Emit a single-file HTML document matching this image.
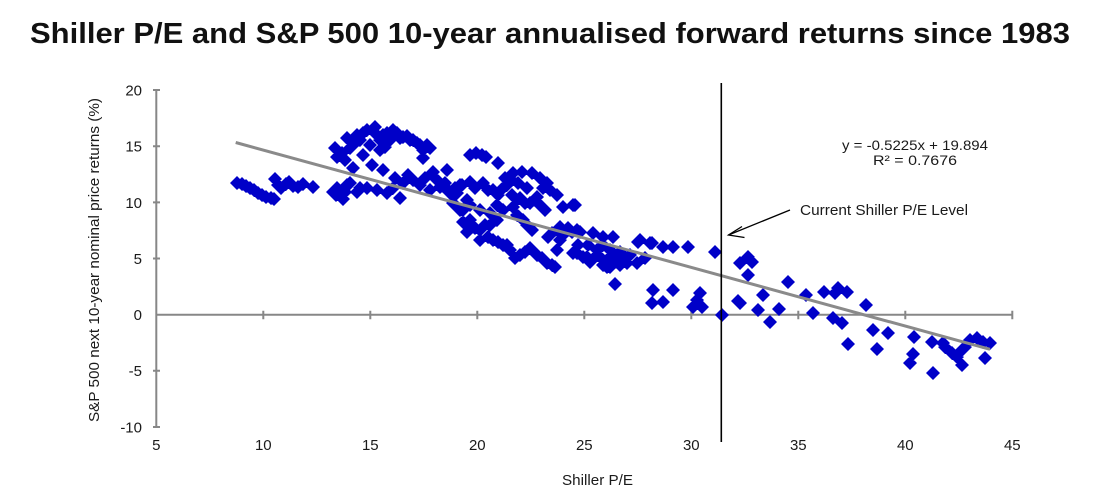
<!DOCTYPE html>
<html>
<head>
<meta charset="utf-8">
<style>
html,body{margin:0;padding:0;background:#fff;}
svg{display:block;}
</style>
</head>
<body>
<svg width="1107" height="497" viewBox="0 0 1107 497" xmlns="http://www.w3.org/2000/svg">
<rect width="1107" height="497" fill="#fff"/>
<text x="30" y="43" font-family="Liberation Sans, sans-serif" font-weight="bold" font-size="29" fill="#111" textLength="1040" lengthAdjust="spacingAndGlyphs">Shiller P/E and S&amp;P 500 10-year annualised forward returns since 1983</text>

<!-- axes -->
<g stroke="#878787" stroke-width="2" fill="none">
<line x1="156.3" y1="90" x2="156.3" y2="427"/>
<line x1="156.3" y1="314.7" x2="1013" y2="314.7"/>
<path d="M153 90H160M153 146.2H160M153 202.4H160M153 258.5H160M153 370.8H160M153 427H160"/>
<path d="M263.3 310.7V319.3M370.3 310.7V319.3M477.3 310.7V319.3M584.3 310.7V319.3M691.3 310.7V319.3M798.3 310.7V319.3M905.3 310.7V319.3M1012.3 310.7V319.3"/>
</g>

<g font-family="Liberation Sans, sans-serif" font-size="15" fill="#1a1a1a" text-anchor="end">
<text x="142" y="95.4">20</text>
<text x="142" y="151.6">15</text>
<text x="142" y="207.8">10</text>
<text x="142" y="263.9">5</text>
<text x="142" y="320.1">0</text>
<text x="142" y="376.2">-5</text>
<text x="142" y="432.4">-10</text>
</g>
<g font-family="Liberation Sans, sans-serif" font-size="15" fill="#1a1a1a" text-anchor="middle">
<text x="156.3" y="450">5</text>
<text x="263.3" y="450">10</text>
<text x="370.3" y="450">15</text>
<text x="477.3" y="450">20</text>
<text x="584.3" y="450">25</text>
<text x="691.3" y="450">30</text>
<text x="798.3" y="450">35</text>
<text x="905.3" y="450">40</text>
<text x="1012.3" y="450">45</text>
</g>
<text x="562" y="485" font-family="Liberation Sans, sans-serif" font-size="15" fill="#1a1a1a" textLength="71" lengthAdjust="spacingAndGlyphs">Shiller P/E</text>
<text transform="translate(99,260) rotate(-90)" x="0" y="0" text-anchor="middle" font-family="Liberation Sans, sans-serif" font-size="15" fill="#1a1a1a" textLength="324" lengthAdjust="spacingAndGlyphs">S&amp;P 500 next 10-year nominal price returns (%)</text>

<!-- data points -->
<path fill="#0000c8" d="
M237 183m0-7l7 7-7 7-7-7zM242 184m0-7l7 7-7 7-7-7zM246 186m0-7l7 7-7 7-7-7zM250 188m0-7l7 7-7 7-7-7zM254 190m0-7l7 7-7 7-7-7zM258 193m0-7l7 7-7 7-7-7zM262 195m0-7l7 7-7 7-7-7zM266 197m0-7l7 7-7 7-7-7zM271 198m0-7l7 7-7 7-7-7zM274 199m0-7l7 7-7 7-7-7zM275 179m0-7l7 7-7 7-7-7zM278 185m0-7l7 7-7 7-7-7zM281 188m0-7l7 7-7 7-7-7zM286 184m0-7l7 7-7 7-7-7zM289 182m0-7l7 7-7 7-7-7zM293 186m0-7l7 7-7 7-7-7zM298 187m0-7l7 7-7 7-7-7zM313 187m0-7l7 7-7 7-7-7zM303 184m0-7l7 7-7 7-7-7z
M333 192m0-7l7 7-7 7-7-7zM337 188m0-7l7 7-7 7-7-7zM340 196m0-7l7 7-7 7-7-7zM343 199m0-7l7 7-7 7-7-7zM347 185m0-7l7 7-7 7-7-7zM350 183m0-7l7 7-7 7-7-7zM336 195m0-7l7 7-7 7-7-7zM345 192m0-7l7 7-7 7-7-7z
M335 148m0-7l7 7-7 7-7-7zM337 157m0-7l7 7-7 7-7-7zM342 153m0-7l7 7-7 7-7-7zM347 138m0-7l7 7-7 7-7-7zM350 148m0-7l7 7-7 7-7-7zM353 145m0-7l7 7-7 7-7-7zM357 135m0-7l7 7-7 7-7-7zM360 140m0-7l7 7-7 7-7-7zM363 133m0-7l7 7-7 7-7-7zM367 130m0-7l7 7-7 7-7-7zM372 130m0-7l7 7-7 7-7-7zM375 127m0-7l7 7-7 7-7-7zM377 135m0-7l7 7-7 7-7-7zM380 140m0-7l7 7-7 7-7-7zM383 135m0-7l7 7-7 7-7-7zM387 133m0-7l7 7-7 7-7-7zM390 140m0-7l7 7-7 7-7-7zM393 130m0-7l7 7-7 7-7-7zM397 133m0-7l7 7-7 7-7-7zM400 138m0-7l7 7-7 7-7-7zM403 137m0-7l7 7-7 7-7-7zM407 136m0-7l7 7-7 7-7-7zM410 140m0-7l7 7-7 7-7-7zM413 140m0-7l7 7-7 7-7-7zM417 143m0-7l7 7-7 7-7-7zM420 145m0-7l7 7-7 7-7-7zM423 150m0-7l7 7-7 7-7-7zM427 145m0-7l7 7-7 7-7-7zM430 148m0-7l7 7-7 7-7-7zM423 158m0-7l7 7-7 7-7-7zM363 155m0-7l7 7-7 7-7-7zM380 150m0-7l7 7-7 7-7-7zM385 147m0-7l7 7-7 7-7-7zM345 160m0-7l7 7-7 7-7-7zM370 145m0-7l7 7-7 7-7-7z
M353 168m0-7l7 7-7 7-7-7zM372 165m0-7l7 7-7 7-7-7zM383 170m0-7l7 7-7 7-7-7zM367 188m0-7l7 7-7 7-7-7zM377 190m0-7l7 7-7 7-7-7zM387 193m0-7l7 7-7 7-7-7zM395 178m0-7l7 7-7 7-7-7zM400 198m0-7l7 7-7 7-7-7zM403 183m0-7l7 7-7 7-7-7zM408 175m0-7l7 7-7 7-7-7zM413 180m0-7l7 7-7 7-7-7zM420 185m0-7l7 7-7 7-7-7zM425 178m0-7l7 7-7 7-7-7zM433 172m0-7l7 7-7 7-7-7zM437 180m0-7l7 7-7 7-7-7zM440 187m0-7l7 7-7 7-7-7zM445 183m0-7l7 7-7 7-7-7zM450 192m0-7l7 7-7 7-7-7zM455 188m0-7l7 7-7 7-7-7zM360 188m0-7l7 7-7 7-7-7zM357 192m0-7l7 7-7 7-7-7zM393 188m0-7l7 7-7 7-7-7zM430 190m0-7l7 7-7 7-7-7zM447 170m0-7l7 7-7 7-7-7zM460 185m0-7l7 7-7 7-7-7z
M470 155m0-7l7 7-7 7-7-7zM476 153m0-7l7 7-7 7-7-7zM482 155m0-7l7 7-7 7-7-7zM486 157m0-7l7 7-7 7-7-7zM498 163m0-7l7 7-7 7-7-7zM513 173m0-7l7 7-7 7-7-7zM522 172m0-7l7 7-7 7-7-7zM532 173m0-7l7 7-7 7-7-7zM540 178m0-7l7 7-7 7-7-7zM547 183m0-7l7 7-7 7-7-7zM543 188m0-7l7 7-7 7-7-7zM550 190m0-7l7 7-7 7-7-7zM557 195m0-7l7 7-7 7-7-7zM575 205m0-7l7 7-7 7-7-7zM512 180m0-7l7 7-7 7-7-7zM518 183m0-7l7 7-7 7-7-7zM527 188m0-7l7 7-7 7-7-7zM505 178m0-7l7 7-7 7-7-7z
M440 183m0-7l7 7-7 7-7-7zM447 190m0-7l7 7-7 7-7-7zM452 195m0-7l7 7-7 7-7-7zM457 193m0-7l7 7-7 7-7-7zM462 185m0-7l7 7-7 7-7-7zM470 182m0-7l7 7-7 7-7-7zM475 188m0-7l7 7-7 7-7-7zM483 183m0-7l7 7-7 7-7-7zM488 190m0-7l7 7-7 7-7-7zM493 190m0-7l7 7-7 7-7-7zM498 195m0-7l7 7-7 7-7-7zM503 188m0-7l7 7-7 7-7-7zM507 185m0-7l7 7-7 7-7-7zM512 195m0-7l7 7-7 7-7-7zM517 200m0-7l7 7-7 7-7-7zM520 198m0-7l7 7-7 7-7-7zM525 203m0-7l7 7-7 7-7-7zM530 203m0-7l7 7-7 7-7-7zM537 197m0-7l7 7-7 7-7-7zM540 205m0-7l7 7-7 7-7-7zM545 210m0-7l7 7-7 7-7-7zM513 207m0-7l7 7-7 7-7-7zM503 210m0-7l7 7-7 7-7-7zM497 205m0-7l7 7-7 7-7-7zM490 213m0-7l7 7-7 7-7-7zM480 210m0-7l7 7-7 7-7-7zM470 205m0-7l7 7-7 7-7-7zM460 210m0-7l7 7-7 7-7-7zM467 200m0-7l7 7-7 7-7-7zM453 203m0-7l7 7-7 7-7-7zM463 210m0-7l7 7-7 7-7-7z
M470 220m0-7l7 7-7 7-7-7zM463 222m0-7l7 7-7 7-7-7zM470 227m0-7l7 7-7 7-7-7zM467 232m0-7l7 7-7 7-7-7zM475 228m0-7l7 7-7 7-7-7zM480 230m0-7l7 7-7 7-7-7zM485 225m0-7l7 7-7 7-7-7zM490 225m0-7l7 7-7 7-7-7zM497 220m0-7l7 7-7 7-7-7zM488 237m0-7l7 7-7 7-7-7zM493 240m0-7l7 7-7 7-7-7zM498 242m0-7l7 7-7 7-7-7zM503 245m0-7l7 7-7 7-7-7zM507 245m0-7l7 7-7 7-7-7zM520 255m0-7l7 7-7 7-7-7zM525 252m0-7l7 7-7 7-7-7zM530 248m0-7l7 7-7 7-7-7zM537 255m0-7l7 7-7 7-7-7zM542 258m0-7l7 7-7 7-7-7zM547 263m0-7l7 7-7 7-7-7zM552 265m0-7l7 7-7 7-7-7zM555 267m0-7l7 7-7 7-7-7zM532 230m0-7l7 7-7 7-7-7zM523 220m0-7l7 7-7 7-7-7zM517 215m0-7l7 7-7 7-7-7zM527 225m0-7l7 7-7 7-7-7zM480 240m0-7l7 7-7 7-7-7zM510 250m0-7l7 7-7 7-7-7zM515 258m0-7l7 7-7 7-7-7z
M548 237m0-7l7 7-7 7-7-7zM552 233m0-7l7 7-7 7-7-7zM557 230m0-7l7 7-7 7-7-7zM560 240m0-7l7 7-7 7-7-7zM557 250m0-7l7 7-7 7-7-7zM563 235m0-7l7 7-7 7-7-7zM568 228m0-7l7 7-7 7-7-7zM572 232m0-7l7 7-7 7-7-7zM577 230m0-7l7 7-7 7-7-7zM573 253m0-7l7 7-7 7-7-7zM578 245m0-7l7 7-7 7-7-7zM583 257m0-7l7 7-7 7-7-7zM588 245m0-7l7 7-7 7-7-7zM593 233m0-7l7 7-7 7-7-7zM597 250m0-7l7 7-7 7-7-7zM600 257m0-7l7 7-7 7-7-7zM603 245m0-7l7 7-7 7-7-7zM607 267m0-7l7 7-7 7-7-7zM610 250m0-7l7 7-7 7-7-7zM613 237m0-7l7 7-7 7-7-7zM617 260m0-7l7 7-7 7-7-7zM620 252m0-7l7 7-7 7-7-7zM627 263m0-7l7 7-7 7-7-7zM630 255m0-7l7 7-7 7-7-7zM637 263m0-7l7 7-7 7-7-7zM640 240m0-7l7 7-7 7-7-7zM645 258m0-7l7 7-7 7-7-7zM650 243m0-7l7 7-7 7-7-7zM663 247m0-7l7 7-7 7-7-7zM673 247m0-7l7 7-7 7-7-7zM688 247m0-7l7 7-7 7-7-7zM615 284m0-7l7 7-7 7-7-7zM573 205m0-7l7 7-7 7-7-7zM563 207m0-7l7 7-7 7-7-7zM560 227m0-7l7 7-7 7-7-7zM567 230m0-7l7 7-7 7-7-7zM580 232m0-7l7 7-7 7-7-7zM603 237m0-7l7 7-7 7-7-7zM577 253m0-7l7 7-7 7-7-7zM587 257m0-7l7 7-7 7-7-7zM597 255m0-7l7 7-7 7-7-7zM607 260m0-7l7 7-7 7-7-7zM617 257m0-7l7 7-7 7-7-7zM627 258m0-7l7 7-7 7-7-7zM610 267m0-7l7 7-7 7-7-7zM603 265m0-7l7 7-7 7-7-7zM590 262m0-7l7 7-7 7-7-7zM620 265m0-7l7 7-7 7-7-7zM638 242m0-7l7 7-7 7-7-7zM652 243m0-7l7 7-7 7-7-7z
M715 252m0-7l7 7-7 7-7-7zM653 290m0-7l7 7-7 7-7-7zM673 290m0-7l7 7-7 7-7-7zM652 303m0-7l7 7-7 7-7-7zM663 302m0-7l7 7-7 7-7-7zM700 293m0-7l7 7-7 7-7-7zM697 300m0-7l7 7-7 7-7-7zM693 307m0-7l7 7-7 7-7-7zM702 307m0-7l7 7-7 7-7-7zM722 315m0-7l7 7-7 7-7-7zM740 263m0-7l7 7-7 7-7-7zM748 257m0-7l7 7-7 7-7-7zM752 262m0-7l7 7-7 7-7-7zM748 275m0-7l7 7-7 7-7-7zM740 303m0-7l7 7-7 7-7-7zM738 301m0-7l7 7-7 7-7-7zM758 310m0-7l7 7-7 7-7-7zM770 322m0-7l7 7-7 7-7-7zM779 309m0-7l7 7-7 7-7-7zM763 295m0-7l7 7-7 7-7-7zM788 282m0-7l7 7-7 7-7-7z
M806 295m0-7l7 7-7 7-7-7zM813 313m0-7l7 7-7 7-7-7zM824 292m0-7l7 7-7 7-7-7zM835 293m0-7l7 7-7 7-7-7zM838 288m0-7l7 7-7 7-7-7zM847 292m0-7l7 7-7 7-7-7zM833 318m0-7l7 7-7 7-7-7zM842 323m0-7l7 7-7 7-7-7zM848 344m0-7l7 7-7 7-7-7zM866 305m0-7l7 7-7 7-7-7zM873 330m0-7l7 7-7 7-7-7zM877 349m0-7l7 7-7 7-7-7zM888 333m0-7l7 7-7 7-7-7zM914 337m0-7l7 7-7 7-7-7zM913 354m0-7l7 7-7 7-7-7zM910 363m0-7l7 7-7 7-7-7zM933 373m0-7l7 7-7 7-7-7zM932 342m0-7l7 7-7 7-7-7zM943 343m0-7l7 7-7 7-7-7zM945 347m0-7l7 7-7 7-7-7zM952 353m0-7l7 7-7 7-7-7zM957 357m0-7l7 7-7 7-7-7zM962 350m0-7l7 7-7 7-7-7zM962 365m0-7l7 7-7 7-7-7zM970 340m0-7l7 7-7 7-7-7zM977 338m0-7l7 7-7 7-7-7zM983 342m0-7l7 7-7 7-7-7zM990 343m0-7l7 7-7 7-7-7zM985 358m0-7l7 7-7 7-7-7zM965 347m0-7l7 7-7 7-7-7z
"/>

<!-- trend line -->
<line x1="235.7" y1="142.5" x2="990" y2="349.3" stroke="#8a8a8a" stroke-width="3"/>

<!-- current level line -->
<line x1="721.3" y1="83" x2="721.3" y2="442" stroke="#000" stroke-width="1.6"/>

<!-- arrow -->
<g stroke="#000" stroke-width="1.3" fill="none">
<line x1="790" y1="210" x2="728.5" y2="235"/>
<path d="M742 226.5L728.5 235L744.5 237.5"/>
</g>

<g font-family="Liberation Sans, sans-serif" fill="#1a1a1a">
<text x="800" y="215" font-size="15" textLength="168" lengthAdjust="spacingAndGlyphs">Current Shiller P/E Level</text>
<text x="842" y="150" font-size="14" textLength="146" lengthAdjust="spacingAndGlyphs">y = -0.5225x + 19.894</text>
<text x="873" y="165" font-size="14" textLength="84" lengthAdjust="spacingAndGlyphs">R² = 0.7676</text>
</g>
</svg>
</body>
</html>
